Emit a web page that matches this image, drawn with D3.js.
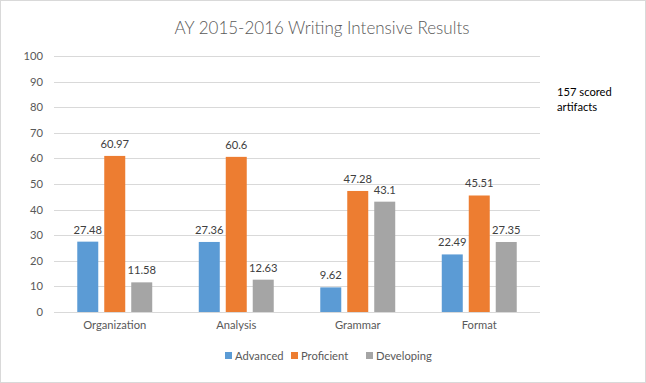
<!DOCTYPE html>
<html>
<head>
<meta charset="utf-8">
<script src="https://cdn.jsdelivr.net/npm/d3@7"></script>
<style>
  html, body { margin: 0; padding: 0; background: #fff; }
  svg { display: block; font-family: Lato, "Open Sans", sans-serif; }
</style>
</head>
<body>
<svg id="chart" width="646" height="383"></svg>
<script>
const categories = ['Organization', 'Analysis', 'Grammar', 'Format'];
const seriesNames = ['Advanced', 'Proficient', 'Developing'];
const advanced   = [27.48, 27.36, 9.62, 22.49];
const proficient = [60.97, 60.6, 47.28, 45.51];
const developing = [11.58, 12.63, 43.1, 27.35];
const yTicks = [0, 10, 20, 30, 40, 50, 60, 70, 80, 90, 100];
const titleText = 'AY 2015-2016 Writing Intensive Results';
const noteLines = ['157 scored', 'artifacts'];

const colors = ['#5B9BD5', '#ED7D31', '#A5A5A5'];
const seriesValues = [advanced, proficient, developing];

const W = 646, H = 383;
const plot = { left: 54, right: 540, top: 56, bottom: 312 };
const fs = 11.2;

const svg = d3.select('#chart');

// chart frame
svg.append('rect')
  .attr('x', 0.5).attr('y', 0.5)
  .attr('width', W - 1).attr('height', H - 1)
  .attr('fill', '#fff').attr('stroke', '#D9D9D9');

const x = d3.scaleBand()
  .domain(categories)
  .range([plot.left, plot.right])
  .paddingInner(0.383)
  .paddingOuter(0.1915);

const xs = d3.scaleBand()
  .domain(seriesNames)
  .range([0, x.bandwidth()])
  .paddingInner(0.222)
  .paddingOuter(0);

const y = d3.scaleLinear().domain([0, 100]).range([plot.bottom, plot.top]);

// gridlines
svg.append('g')
  .selectAll('line')
  .data(yTicks)
  .join('line')
  .attr('x1', plot.left).attr('x2', plot.right)
  .attr('y1', d => Math.round(y(d)) + 0.5).attr('y2', d => Math.round(y(d)) + 0.5)
  .attr('stroke', '#D9D9D9').attr('stroke-width', 1);

// y axis labels
const yAxis = d3.axisLeft(y).tickValues(yTicks).tickSize(0).tickPadding(11);
svg.append('g')
  .attr('transform', `translate(${plot.left},0)`)
  .call(yAxis)
  .call(g => g.select('.domain').remove())
  .call(g => g.selectAll('text')
    .attr('font-family', 'Lato, "Open Sans", sans-serif')
    .attr('font-size', fs).attr('fill', '#595959'));

// x axis labels
const xAxis = d3.axisBottom(x).tickSize(0).tickPadding(9);
svg.append('g')
  .attr('transform', `translate(0,${plot.bottom})`)
  .call(xAxis)
  .call(g => g.select('.domain').remove())
  .call(g => g.selectAll('text')
    .attr('font-family', 'Lato, "Open Sans", sans-serif')
    .attr('font-size', fs).attr('fill', '#595959'));

// bars
const rows = [];
categories.forEach((c, i) => {
  seriesNames.forEach((s, j) => rows.push({ cat: c, series: s, value: seriesValues[j][i], color: colors[j] }));
});

const bars = svg.append('g');
bars.selectAll('rect')
  .data(rows)
  .join('rect')
  .attr('x', d => x(d.cat) + xs(d.series))
  .attr('width', xs.bandwidth())
  .attr('y', d => y(d.value))
  .attr('height', d => y(0) - y(d.value))
  .attr('fill', d => d.color);

bars.selectAll('text')
  .data(rows)
  .join('text')
  .attr('x', d => x(d.cat) + xs(d.series) + xs.bandwidth() / 2)
  .attr('y', d => y(d.value) - 8)
  .attr('text-anchor', 'middle')
  .attr('font-size', fs)
  .attr('fill', '#404040')
  .text(d => d.value);

// title
svg.append('text')
  .attr('x', 322).attr('y', 34)
  .attr('text-anchor', 'middle')
  .attr('font-size', 17)
  .attr('font-weight', 300)
  .attr('fill', '#595959')
  .text(titleText);

// note
svg.append('g')
  .selectAll('text')
  .data(noteLines)
  .join('text')
  .attr('x', 557)
  .attr('y', (d, i) => 96 + i * 15)
  .attr('font-size', fs)
  .attr('fill', '#000')
  .text(d => d);

// legend
const legendX = [225, 291, 366];
const legend = svg.append('g')
  .selectAll('g')
  .data(seriesNames)
  .join('g')
  .attr('transform', (d, i) => `translate(${legendX[i]},356)`);
legend.append('rect')
  .attr('x', 0).attr('y', -4)
  .attr('width', 7).attr('height', 7)
  .attr('fill', (d, i) => colors[i]);
legend.append('text')
  .attr('x', 10).attr('y', 4)
  .attr('font-size', fs)
  .attr('fill', '#595959')
  .text(d => d);
</script>
</body>
</html>
